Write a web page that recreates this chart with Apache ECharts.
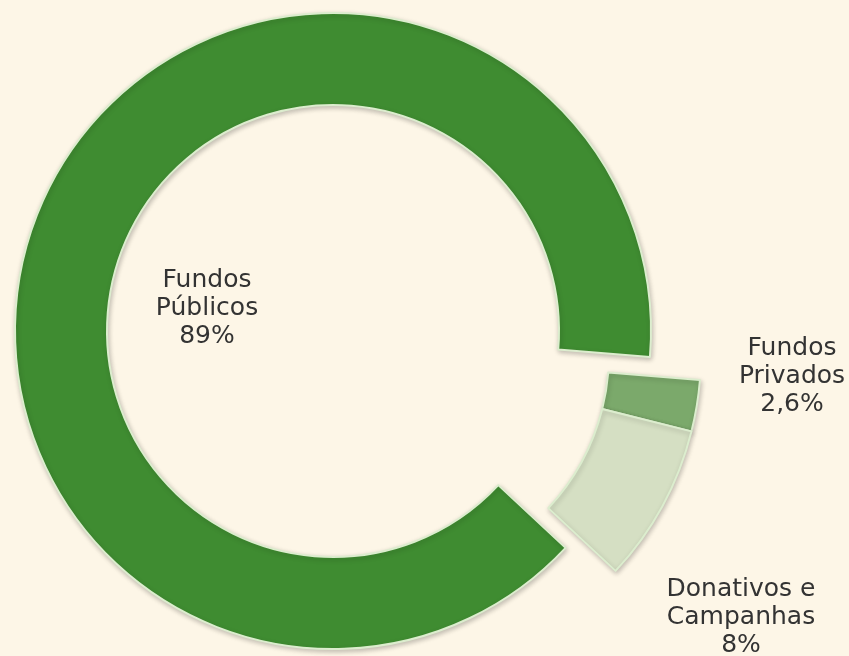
<!DOCTYPE html>
<html>
<head>
<meta charset="utf-8">
<script src="https://cdn.jsdelivr.net/npm/echarts@6/dist/echarts.min.js"></script>
<style>
  html, body { margin: 0; padding: 0; background: #fdf6e7; }
  #chart { width: 849px; height: 656px; }
</style>
</head>
<body>
<div id="chart"></div>
<script>
// Funding sources (percent of total)
const categories = ['Fundos\nPúblicos', 'Fundos\nPrivados', 'Donativos e\nCampanhas'];
const shares = [89, 2.6, 8];
const colors = ['#3f8c31', '#7ba96b', '#d5dfc3'];

// Which slices are pulled out of the ring together
const pulledOut = [false, true, true];

// Label anchor (centre of each text block)
const labelPos = [[207, 308], [792, 376], [741, 617]];

const ringRadius = [226, 318];
const ringCenter = [333, 331];
const pulledCenter = [383, 354];

function fmtPct(v) {
  return String(v).replace('.', ',') + '%';
}

function buildData(showPulled) {
  return categories.map((name, i) => {
    const visible = pulledOut[i] === showPulled;
    const item = { name: name, value: shares[i] };
    if (visible) {
      item.itemStyle = {
        color: colors[i],
        borderColor: '#dcedce',
        borderWidth: 2,
        shadowBlur: 5,
        shadowColor: 'rgba(0,0,0,0.22)',
        shadowOffsetX: 1,
        shadowOffsetY: 2
      };
    } else {
      item.itemStyle = { color: 'rgba(0,0,0,0)', borderWidth: 0, shadowBlur: 0 };
      item.label = { show: false };
      item.labelLine = { show: false };
      item.emphasis = { disabled: true };
      item.tooltip = { show: false };
    }
    return item;
  });
}

function ringSeries(center, showPulled) {
  return {
    type: 'pie',
    center: center,
    radius: ringRadius,
    startAngle: 317,
    clockwise: true,
    avoidLabelOverlap: false,
    animation: false,
    data: buildData(showPulled),
    label: {
      show: true,
      position: 'outside',
      formatter: p => p.name + '\n' + fmtPct(shares[p.dataIndex]),
      fontFamily: 'DejaVu Sans',
      fontSize: 25,
      lineHeight: 28,
      color: '#333333',
      align: 'center'
    },
    labelLine: { show: false },
    labelLayout: function (params) {
      const pos = labelPos[params.dataIndex];
      return { x: pos[0], y: pos[1], align: 'center', verticalAlign: 'middle' };
    }
  };
}

const chart = echarts.init(document.getElementById('chart'), null, { renderer: 'canvas' });
chart.setOption({
  backgroundColor: '#fdf6e7',
  series: [
    ringSeries(ringCenter, false),
    ringSeries(pulledCenter, true)
  ]
});
</script>
</body>
</html>
